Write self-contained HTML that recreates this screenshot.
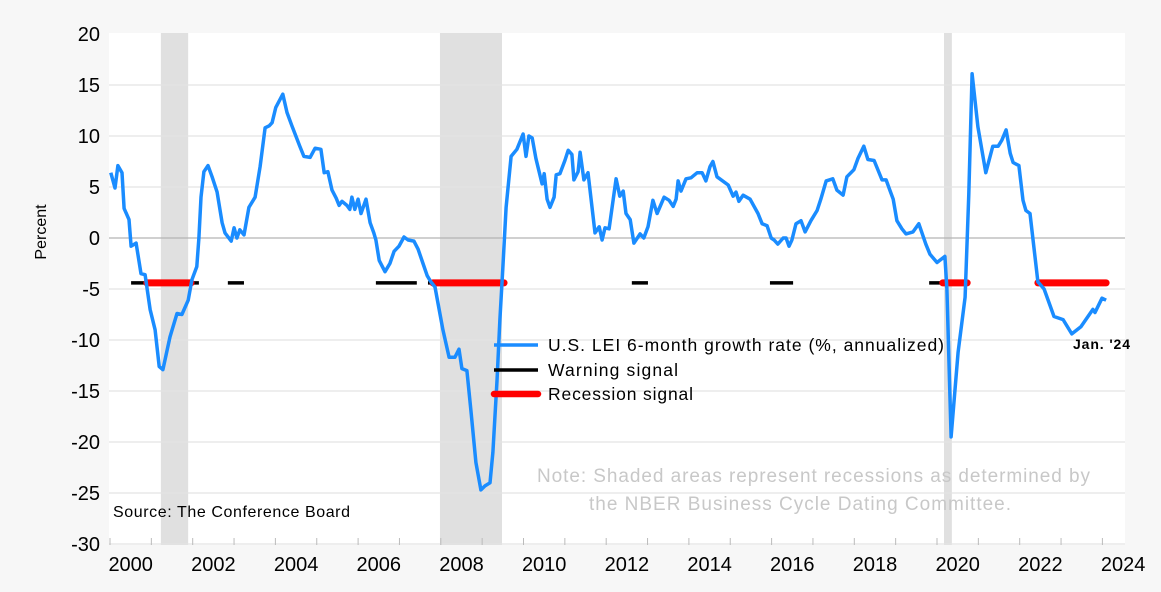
<!DOCTYPE html>
<html><head><meta charset="utf-8"><style>
body{margin:0;background:#f7f7f7;}
svg{display:block;font-family:"Liberation Sans",sans-serif;}
</style></head><body>
<svg id="c" width="1161" height="592">
<rect x="0" y="0" width="1161" height="592" fill="#f7f7f7"/>
<rect x="109" y="33" width="1016" height="512" fill="#ffffff"/>
<g id="shades"></g><g id="grid"></g><g id="signals"></g><g id="series"></g><g id="axes"></g>
<text x="46" y="232" transform="rotate(-90 46 232)" text-anchor="middle" font-size="16" fill="#000">Percent</text>
<g>
<line x1="494" y1="345" x2="538" y2="345" stroke="#1a8cff" stroke-width="3.5"/>
<text x="548" y="351" font-size="17.5" textLength="396">U.S. LEI 6-month growth rate (%, annualized)</text>
<line x1="494" y1="370" x2="538" y2="370" stroke="#000" stroke-width="3.5"/>
<text x="548" y="376" font-size="17.5" textLength="130">Warning signal</text>
<line x1="494" y1="394" x2="538" y2="394" stroke="#f00" stroke-width="6.5" stroke-linecap="round"/>
<text x="548" y="400" font-size="17.5" textLength="145">Recession signal</text>
</g>
<text x="1073" y="349" font-size="14" font-weight="bold" textLength="57">Jan. '24</text>
<text x="537" y="482" font-size="19" fill="#c8c8c8" textLength="553">Note: Shaded areas represent recessions as determined by</text>
<text x="589" y="510" font-size="19" fill="#c8c8c8" textLength="422">the NBER Business Cycle Dating Committee.</text>
<text x="113" y="517" font-size="16" textLength="237">Source: The Conference Board</text>
</svg>
<script>
const years=[0.02,0.12,0.19,0.29,0.34,0.46,0.51,0.63,0.75,0.85,0.97,1.09,1.19,1.28,1.45,1.62,1.74,1.89,1.98,2.10,2.15,2.20,2.27,2.37,2.47,2.59,2.71,2.78,2.93,3.00,3.07,3.14,3.24,3.36,3.51,3.63,3.75,3.85,3.92,4.01,4.18,4.28,4.40,4.59,4.69,4.84,4.96,5.10,5.18,5.27,5.37,5.47,5.54,5.61,5.73,5.80,5.85,5.92,6.00,6.07,6.19,6.29,6.38,6.43,6.51,6.65,6.77,6.87,6.99,7.11,7.21,7.35,7.45,7.57,7.67,7.76,7.86,8.05,8.20,8.34,8.44,8.51,8.63,8.73,8.85,8.97,9.07,9.19,9.26,9.36,9.43,9.50,9.58,9.70,9.84,9.99,10.06,10.13,10.21,10.30,10.45,10.50,10.57,10.64,10.74,10.79,10.88,11.00,11.08,11.17,11.22,11.32,11.37,11.46,11.56,11.73,11.83,11.90,11.97,12.07,12.24,12.33,12.41,12.48,12.58,12.67,12.82,12.91,13.01,13.13,13.23,13.40,13.52,13.62,13.69,13.74,13.81,13.93,14.05,14.20,14.32,14.41,14.51,14.58,14.68,14.95,15.07,15.14,15.21,15.31,15.48,15.67,15.77,15.89,15.99,16.06,16.15,16.28,16.35,16.42,16.49,16.59,16.71,16.81,16.95,17.10,17.19,17.32,17.48,17.58,17.73,17.82,17.99,18.09,18.23,18.33,18.48,18.67,18.77,18.94,19.03,19.15,19.25,19.42,19.56,19.73,19.83,20.00,20.19,20.24,20.34,20.51,20.68,20.77,20.85,20.99,21.18,21.35,21.48,21.57,21.67,21.77,21.84,21.98,22.08,22.15,22.25,22.44,22.59,22.83,23.05,23.26,23.48,23.77,23.82,23.99,24.09];
const values=[6.4,4.9,7.1,6.4,2.9,1.8,-0.8,-0.5,-3.5,-3.6,-7,-9,-12.6,-12.9,-9.7,-7.4,-7.5,-6.1,-4.1,-2.8,0,4,6.5,7.1,6,4.5,1.5,0.5,-0.3,1,0,0.8,0.3,3,4,7,10.8,11,11.3,12.8,14.1,12.3,11,9,8,7.9,8.8,8.7,6.4,6.5,4.7,3.9,3.2,3.6,3.2,2.8,4.0,2.8,3.8,2.4,3.8,1.5,0.5,-0.2,-2.2,-3.3,-2.5,-1.3,-0.8,0.1,-0.2,-0.3,-1.1,-2.5,-3.7,-4.3,-4.8,-9,-11.7,-11.7,-10.9,-12.8,-13,-17,-22,-24.7,-24.3,-24,-21,-14,-8,-3,3,8,8.7,10.2,8.0,10,9.8,7.8,5.3,6.3,3.8,3,4,6.2,6.3,7.6,8.6,8.2,5.7,6.5,8.4,5.7,6.4,0.5,1.1,-0.2,1.0,0.9,5.8,4.1,4.6,2.4,1.8,-0.5,0.4,0,1.1,3.7,2.4,4.0,3.7,3.1,3.8,5.6,4.6,5.8,5.9,6.4,6.4,5.6,7.0,7.5,6.0,5.2,4.1,4.5,3.6,4.2,3.8,2.4,1.4,1.2,0,-0.2,-0.6,0,0,-0.8,-0.2,1.4,1.7,0.6,1.7,2.7,3.8,5.6,5.8,4.7,4.2,6.0,6.7,7.8,9.0,7.7,7.6,5.7,5.7,3.8,1.7,0.9,0.4,0.6,1.4,-0.6,-1.6,-2.4,-1.8,-5,-19.5,-11.2,-5.8,4.3,16.1,10.9,6.4,9.0,9.0,9.6,10.6,8.3,7.4,7.1,3.7,2.7,2.4,-4.3,-5.0,-7.7,-8.0,-9.4,-8.7,-7.0,-7.3,-5.9,-6.1];
const recStart=[1.23,7.98,20.17];
const recEnd=[1.89,9.48,20.36];
const warnStart=[0.51,1.96,2.85,6.43,7.69,12.62,15.96,19.81,22.39];
const warnEnd=[0.89,2.15,3.24,7.42,7.81,13.01,16.52,20.14,22.44];
const sigStart=[0.89,7.81,20.14,22.44];
const sigEnd=[1.96,9.53,20.73,24.09];
const signalLevel=-4.4;
const yTicks=[20,15,10,5,0,-5,-10,-15,-20,-25,-30];
const xLabels=[2000,2002,2004,2006,2008,2010,2012,2014,2016,2018,2020,2022,2024];
const NS='http://www.w3.org/2000/svg';
function X(t){return 110+41.35*t;}
function Y(v){return 238-10.2*v;}
function mk(tag,attrs,parent){const e=document.createElementNS(NS,tag);for(const k in attrs)e.setAttribute(k,attrs[k]);document.getElementById(parent).appendChild(e);return e;}
for(let i=0;i<recStart.length;i++){
 const r=mk('rect',{x:X(recStart[i]),y:33,width:X(recEnd[i])-X(recStart[i]),height:512,fill:'#e0e0e0'},'shades');
 
 
}
yTicks.forEach(v=>{
 if(v!==20){const l=mk('line',{x1:109,x2:1125,y1:Y(v),y2:Y(v),stroke:v===0?'#b4b4b4':'#e4e4e4','stroke-width':1.3},'grid');
 
 }
 const t=mk('text',{x:100,y:Y(v)+7,'text-anchor':'end','font-size':20},'axes');t.textContent=v;
 
 
});
for(let yr=0;yr<=24;yr++){const l=mk('line',{x1:X(yr),x2:X(yr),y1:538,y2:545,stroke:'#bbb','stroke-width':1},'axes');
 
 }
xLabels.forEach(y=>{const t=mk('text',{x:X(y-2000)+20.7,y:571,'text-anchor':'middle','font-size':20},'axes');t.textContent=y;
 
 });
for(let i=0;i<warnStart.length;i++){const l=mk('line',{x1:X(warnStart[i]),x2:X(warnEnd[i]),y1:Y(signalLevel),y2:Y(signalLevel),stroke:'#000','stroke-width':3.5},'signals');
 
 }
for(let i=0;i<sigStart.length;i++){const l=mk('line',{x1:X(sigStart[i]),x2:X(sigEnd[i]),y1:Y(signalLevel),y2:Y(signalLevel),stroke:'#f00','stroke-width':7,'stroke-linecap':'round'},'signals');
 
 }
const p=mk('polyline',{points:years.map((t,i)=>X(t).toFixed(1)+','+Y(values[i]).toFixed(1)).join(' '),fill:'none',stroke:'#1a8cff','stroke-width':3.5,'stroke-linejoin':'round'},'series');


</script>
</body></html>
